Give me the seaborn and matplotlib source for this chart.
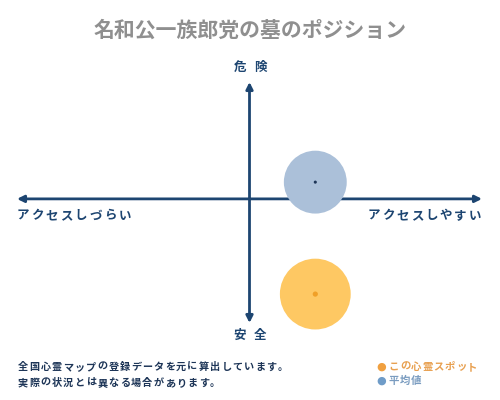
"""Position map: access (x) vs danger (y) for one spot and the average."""
import matplotlib
matplotlib.use('Agg')
import matplotlib.pyplot as plt
import pandas as pd
import seaborn as sns

# data (x: -100 hard to reach .. 100 easy, y: -100 safe .. 100 dangerous)
series = ['この心霊スポット', '平均値']
access = [28.3, 28.3]
danger = [-79.0, 13.9]
sizes = [2600, 2050]

title = '名和公一族郎党の墓のポジション'
axis_top, axis_bottom = '危険', '安全'
axis_left, axis_right = 'アクセスしづらい', 'アクセスしやすい'
notes = ['全国心霊マップの登録データを元に算出しています。',
         '実際の状況とは異なる場合があります。']

sns.set_theme(style='white')
plt.rcParams['font.family'] = ['Noto Sans CJK JP', 'DejaVu Sans']

navy = '#1d4571'
fill = {'この心霊スポット': '#fec863', '平均値': '#abc0d9'}
dot = {'この心霊スポット': '#f0a028', '平均値': '#1d3557'}

W, H = 500, 400
fig = plt.figure(figsize=(5, 4), dpi=100)
fig.patch.set_facecolor('white')
# axes box in pixels: x 17..482, y 82..323
ax = fig.add_axes([17 / W, 1 - 323 / H, 465 / W, 241 / H])
ax.set_xlim(-100, 100)
ax.set_ylim(-103, 97)
ax.axis('off')

df = pd.DataFrame({'series': series, 'access': access, 'danger': danger,
                   'size': sizes})
sns.scatterplot(data=df, x='access', y='danger', hue='series', size='series',
                sizes=dict(zip(series, sizes)), palette=fill, linewidth=0,
                legend=False, ax=ax, zorder=3, clip_on=False)
sns.scatterplot(data=df, x='access', y='danger', hue='series', palette=dot,
                s=[14, 5], marker='o', linewidth=0, legend=False, ax=ax,
                zorder=4, clip_on=False)

# arrows
arrow = dict(arrowstyle='-|>', color=navy, lw=2, mutation_scale=10,
             shrinkA=0, shrinkB=0)
ax.annotate('', xy=(-100, 0), xytext=(0, 0), arrowprops=arrow, zorder=2)
ax.annotate('', xy=(100, 0), xytext=(0, 0), arrowprops=arrow, zorder=2)
ax.annotate('', xy=(0, 97), xytext=(0, 0), arrowprops=arrow, zorder=2)
ax.annotate('', xy=(0, -103), xytext=(0, 0), arrowprops=arrow, zorder=2)


def spaced(text, x0, y, step, ha='left', **kw):
    """Draw text char by char in figure pixels (letter spacing)."""
    if ha == 'center':
        x0 = x0 - step * (len(text) - 1) / 2
    elif ha == 'right':
        x0 = x0 - step * (len(text) - 1)
    for i, ch in enumerate(text):
        fig.text((x0 + i * step) / W, 1 - y / H, ch, ha='center',
                 va='center', **kw)


fig.text(250 / W, 1 - 30 / H, title, ha='center', va='center',
         fontsize=15, color='#8f8f8f', fontweight='bold')

lab = dict(fontsize=9, color=navy, fontweight='bold')
spaced(axis_top, 250, 67, 20, ha='center', **lab)
spaced(axis_bottom, 250, 335, 20, ha='center', **lab)
spaced(axis_left, 23, 216, 14.5, **lab)
spaced(axis_right, 475, 216, 14.5, ha='right', **lab)

note = dict(fontsize=7.3, color='#1d3557', fontweight='bold')
spaced(notes[0], 23, 367, 11.3, **note)
spaced(notes[1], 23, 383, 11.3, **note)

# legend
fig.text(381 / W, 1 - 367 / H, '●', ha='center', va='center',
         fontsize=8, color='#f0a040', family=['DejaVu Sans'])
fig.text(381 / W, 1 - 381 / H, '●', ha='center', va='center',
         fontsize=8, color='#6f9cc8', family=['DejaVu Sans'])
spaced(series[0], 394, 367, 11.2, fontsize=7.5, color='#e8a050',
       fontweight='bold')
spaced(series[1], 394, 381, 11.2, fontsize=7.5, color='#7a9cc0',
       fontweight='bold')

fig.savefig('out.png', dpi=100, facecolor='white')
